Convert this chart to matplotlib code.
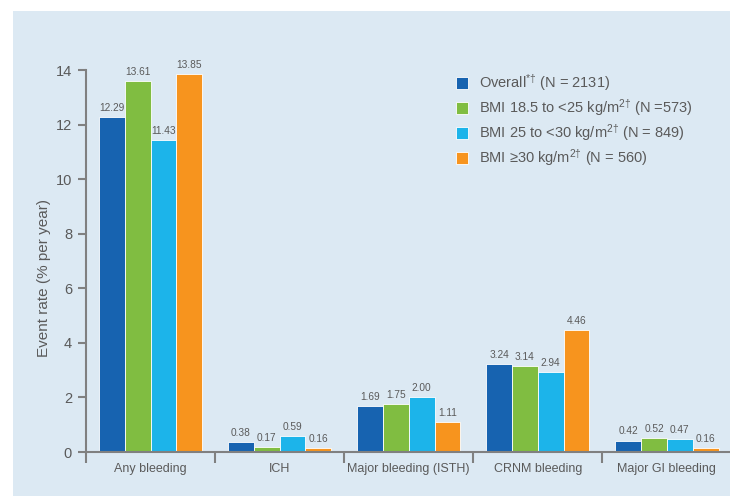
import numpy as np
import matplotlib.pyplot as plt
from matplotlib.patches import Rectangle

plt.rcParams["mathtext.fontset"] = "custom"
plt.rcParams["mathtext.rm"] = "Liberation Sans"
plt.rcParams["mathtext.it"] = "Liberation Sans"
plt.rcParams["mathtext.default"] = "rm"

# event rates (% per year) by bleeding outcome and BMI subgroup
categories = ["Any bleeding", "ICH", "Major bleeding (ISTH)", "CRNM bleeding", "Major GI bleeding"]
overall = [12.29, 0.38, 1.69, 3.24, 0.42]
bmi_normal = [13.61, 0.17, 1.75, 3.14, 0.52]
bmi_over = [11.43, 0.59, 2.00, 2.94, 0.47]
bmi_obese = [13.85, 0.16, 1.11, 4.46, 0.16]
series_labels = [
    "Overall$^{*\u2020}$ (N = 2131)",
    "BMI 18.5 to <25 kg/m$^{2\u2020}$ (N =573)",
    "BMI 25 to <30 kg/m$^{2\u2020}$ (N = 849)",
    "BMI \u226530 kg/m$^{2\u2020}$ (N = 560)",
]
colors = ["#1763b0", "#80bd41", "#1cb4ea", "#f7941e"]
y_ticks = [0, 2, 4, 6, 8, 10, 12, 14]

bg = "#dce9f3"
grey = "#5a5a5a"
axis_grey = "#808080"
sans = ["Liberation Sans", "DejaVu Sans"]

fig = plt.figure(figsize=(7.3, 4.96), dpi=100, facecolor="white")
fig.patches.append(Rectangle((13 / 730, 0), 1, 1 - 11 / 496, transform=fig.transFigure,
                             facecolor=bg, edgecolor="none", zorder=-1))

ax = fig.add_axes([86 / 730, 1 - 452 / 496, 1 - 86 / 730 + 0.002, (452 - 70) / 496])
ax.set_facecolor("none")

series = [overall, bmi_normal, bmi_over, bmi_obese]
x = np.arange(len(categories))
width = 0.2
offsets = [-1.5, -0.5, 0.5, 1.5]

for vals, off, col, lab in zip(series, offsets, colors, series_labels):
    bars = ax.bar(x + off * width, vals, width, color=col, edgecolor="white",
                  linewidth=0.6, label=lab, zorder=2)
    for b, v in zip(bars, vals):
        ax.text(b.get_x() + b.get_width() / 2, v + 0.15, f"{v:.2f}",
                ha="center", va="bottom", fontsize=7.3, color=grey, family=sans)

ax.set_xlim(-0.5, 4.5)
ax.set_ylim(0, 14)
ax.set_yticks(y_ticks)
ax.set_xticks(x)
ax.set_xticklabels(categories, family=sans, fontsize=9, color=grey)
ax.set_xticks(np.arange(-0.5, 4.5, 1.0), minor=True)
ax.tick_params(axis="x", which="major", length=0, pad=8)
ax.tick_params(axis="x", which="minor", length=8, width=1.5, color=axis_grey, direction="out")
ax.tick_params(axis="y", length=6, width=1.5, color=axis_grey, labelsize=10.5,
               labelcolor=grey, pad=4)
for lbl in ax.get_yticklabels():
    lbl.set_family(sans)

for side in ["top", "right"]:
    ax.spines[side].set_visible(False)
for side in ["left", "bottom"]:
    ax.spines[side].set_color(axis_grey)
    ax.spines[side].set_linewidth(1.5)

ax.set_ylabel("Event rate (% per year)", fontsize=11, color=grey, family=sans)
ax.yaxis.set_label_coords(-0.054, 0.455)

leg = ax.legend(loc="upper left", bbox_to_anchor=(0.553, 1.028), frameon=False,
                handlelength=0.85, handleheight=0.85, handletextpad=0.75,
                labelspacing=0.28, prop={"family": sans, "size": 10.5})
for t in leg.get_texts():
    t.set_color(grey)

fig.savefig("out.png", dpi=100, facecolor="white")
